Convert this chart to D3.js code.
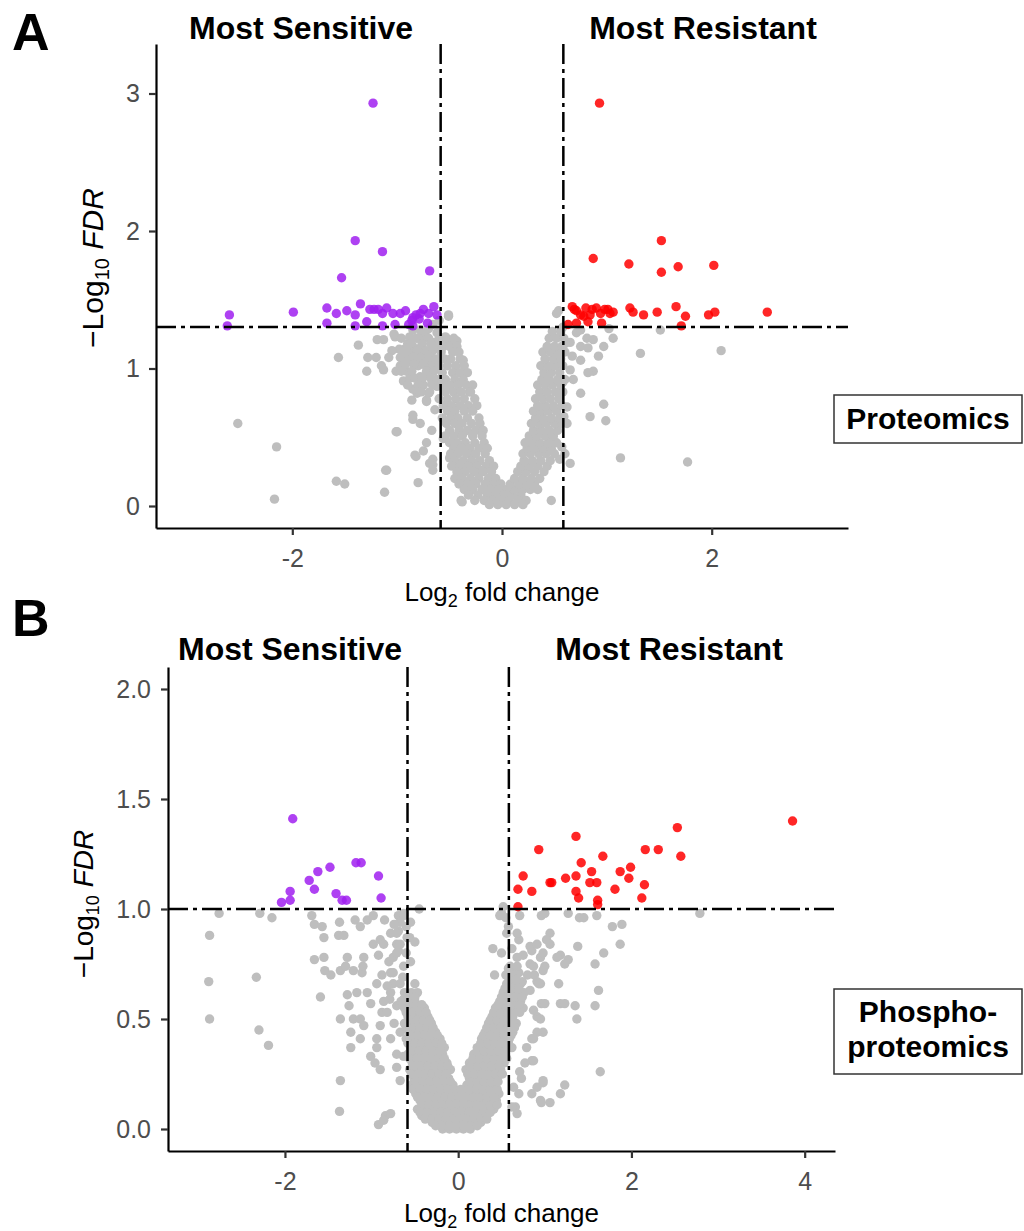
<!DOCTYPE html>
<html><head><meta charset="utf-8">
<script src="https://cdn.jsdelivr.net/npm/d3@7"></script>
<style>
body{margin:0;background:#fff;}
svg text{font-family:"Liberation Sans",Arial,Helvetica,sans-serif;}
</style></head><body>
<svg id="chart" width="1024" height="1231"></svg>
<script>
// ---------------- DATA ----------------
const fcCut = 0.585;          // log2(1.5)
const protFdrCut = 1.301;     // -log10(0.05)
const phosFdrCut = 1.0;       // -log10(0.1)

const protXTicks = [-2, 0, 2];
const protYTicks = [0, 1, 2, 3];
const phosXTicks = [-2, 0, 2, 4];
const phosYTicks = [0, 0.5, 1.0, 1.5, 2.0];

// Proteomics: significant down (Most Sensitive)
const protSensitive = [
[-1.23,2.93],[-1.40,1.93],[-1.14,1.85],[-0.69,1.71],[-1.53,1.66],[-2.60,1.39],[-2.62,1.31],[-1.99,1.41],
[-1.67,1.44],[-1.67,1.33],[-1.58,1.40],[-1.48,1.42],[-1.35,1.47],[-1.40,1.39],[-1.40,1.31],[-1.29,1.34],
[-1.22,1.43],[-1.18,1.43],[-1.14,1.40],[-1.10,1.44],[-1.14,1.31],[-1.04,1.40],[-1.02,1.32],[-0.97,1.40],
[-0.92,1.42],[-0.89,1.32],[-0.85,1.37],[-0.82,1.39],[-0.85,1.31],[-0.78,1.40],[-0.75,1.43],[-0.79,1.36],
[-0.70,1.40],[-0.65,1.45],[-0.62,1.39],[-0.71,1.33],[-0.86,1.35],[-1.26,1.43]
];
// Proteomics: significant up (Most Resistant)
const protResistant = [
[0.93,2.93],[1.52,1.93],[0.87,1.80],[1.21,1.76],[1.68,1.74],[2.02,1.75],[1.52,1.70],[0.67,1.45],
[0.71,1.42],[0.75,1.39],[0.80,1.44],[0.78,1.38],[0.84,1.39],[0.90,1.44],[0.94,1.40],[1.01,1.43],
[1.06,1.41],[0.63,1.32],[0.71,1.33],[0.82,1.34],[0.95,1.33],[1.22,1.44],[1.25,1.41],[1.35,1.39],
[1.48,1.41],[1.66,1.45],[1.75,1.38],[1.71,1.31],[1.97,1.39],[2.03,1.41],[2.53,1.41],[0.69,1.43],
[0.86,1.43],[0.98,1.43],[1.03,1.40]
];
// Proteomics: not significant (scattered)
const protOther = [
[-2.52,0.60],[-2.15,0.43],[-2.17,0.05],[-1.58,0.18],[-1.50,0.16],[-1.12,0.10],[-1.11,0.26],[-1.01,0.54],
[-0.82,0.36],[-0.80,0.17],[-0.75,0.40],[-0.85,0.63],[-0.86,0.77],[-0.81,0.82],[-0.72,0.76],[-0.66,0.34],
[-0.66,0.30],[-0.67,0.55],[-0.38,0.03],[-1.37,1.17],[-1.56,1.08],[-1.28,1.08],[-1.20,1.08],[-1.29,0.98],
[-1.15,1.02],[-1.19,1.21],[-1.03,1.25],[-0.88,1.23],[-1.01,0.98],[-0.94,0.91],[-0.51,1.38],[-0.94,1.12],
[-0.91,1.04],[-0.77,1.16],[-0.75,1.10],[-0.70,1.02],[-0.69,0.94],[-0.62,0.87],[-0.60,1.07],[-0.53,1.21],
[-0.45,1.17],[-0.37,1.06],[-0.31,0.83],[-0.50,0.87],[-0.53,0.72],[-0.47,0.63],[-0.37,0.53],[-0.31,0.38],
[-0.21,0.26],[-0.12,0.12],[-0.56,0.49],[-0.50,0.35],[-0.40,0.21],[-0.31,0.14],
[-1.13,1.21],[-1.13,0.99],[-1.02,1.23],[-0.97,1.02],[-0.93,1.14],[-0.91,0.98],[-0.85,1.16],[-0.85,0.85],
[-0.81,1.06],[-0.78,0.94],[-0.75,1.23],[-0.72,0.77],[-0.69,1.02],[-0.67,0.89],[-0.66,1.19],[-0.64,0.70],
[-0.62,1.26],[-0.85,0.66],[-0.78,0.60],[-1.00,0.54],[-0.83,0.37],[-0.69,0.31],[-0.66,0.26],[-1.10,0.26],
[-0.72,0.46],[-0.51,1.39],[-0.54,1.23],[-0.48,1.19],[-0.43,1.20],
[0.52,1.40],[0.55,0.34],[0.47,0.04],[-0.39,0.04],[0.49,0.48],[0.57,0.43],
[0.54,1.42],[0.65,1.19],[0.67,1.09],[0.71,1.26],[0.75,1.28],[0.75,1.16],
[0.75,1.06],[0.81,1.22],[0.87,1.21],[0.82,1.15],[0.92,1.09],[0.97,1.16],[1.02,1.29],[1.06,1.22],
[0.87,0.98],[0.82,0.97],[0.68,0.92],[0.75,0.82],[0.65,0.99],[1.32,1.11],[1.51,1.28],[2.09,1.13],
[0.97,0.74],[0.84,0.65],[0.99,0.62],[1.13,0.35],[1.77,0.32],[0.65,0.31],[0.60,0.38],[0.62,0.60],
[0.59,0.65],[0.62,0.72],[0.58,1.30],[0.60,1.18],[0.58,0.90],
[-0.85,1.28],[-0.80,1.22],[-0.90,1.18],[-0.70,1.29],[-0.66,1.32],[-0.60,1.35],[-0.98,1.14],[-0.92,1.08],
[-0.86,1.12],[-0.80,1.02],[-0.74,1.05],[-0.70,1.12],[-0.88,0.93],[-0.75,0.88],[-0.70,0.82],
[-0.78,1.28],[-0.72,1.28],[-0.96,1.22],[-0.82,1.22],[-0.70,1.22],[-0.87,1.18],[-0.76,1.18],[-0.68,1.18],
[-1.05,1.13],[-0.92,1.13],[-0.81,1.13],[-0.72,1.13],[-0.66,1.13],[-1.08,1.08],[-0.97,1.08],[-0.85,1.08],
[-0.78,1.08],[-0.69,1.08],[-0.93,1.03],[-0.84,1.03],[-0.75,1.03],[-0.66,1.03],[-0.96,0.98],[-0.86,0.98],
[-0.72,0.98],[-0.65,0.98],[-0.83,0.93],[-0.76,0.93],[-0.68,0.93],[-0.90,0.88],[-0.80,0.88],[-0.66,0.88],
[-0.77,0.83],[-0.69,0.83]
];
// Proteomics: not significant (dense V core)
const protCore = [
[-0.60,1.22],[-0.53,1.22],[-0.46,1.22],[-0.62,1.16],[-0.56,1.16],[-0.50,1.16],[-0.43,1.16],
[-0.58,1.12],[-0.47,1.12],[-0.41,1.12],[-0.63,1.07],[-0.55,1.07],[-0.49,1.07],[-0.40,1.07],
[-0.60,1.02],[-0.52,1.02],[-0.44,1.02],[-0.36,1.02],[-0.57,0.97],[-0.47,0.97],[-0.40,0.97],[-0.33,0.97],
[-0.62,0.92],[-0.54,0.92],[-0.45,0.92],[-0.37,0.92],[-0.58,0.88],[-0.50,0.88],[-0.42,0.88],[-0.34,0.88],[-0.28,0.88],
[-0.54,0.83],[-0.46,0.83],[-0.39,0.83],[-0.30,0.83],[-0.60,0.78],[-0.52,0.78],[-0.44,0.78],[-0.36,0.78],[-0.26,0.78],
[-0.56,0.73],[-0.48,0.73],[-0.40,0.73],[-0.32,0.73],[-0.24,0.73],[-0.52,0.69],[-0.45,0.69],[-0.36,0.69],[-0.28,0.69],
[-0.57,0.64],[-0.49,0.64],[-0.42,0.64],[-0.33,0.64],[-0.22,0.64],[-0.53,0.60],[-0.45,0.60],[-0.38,0.60],[-0.29,0.60],[-0.21,0.60],
[-0.50,0.55],[-0.41,0.55],[-0.33,0.55],[-0.25,0.55],[-0.18,0.55],[-0.54,0.51],[-0.46,0.51],[-0.38,0.51],[-0.28,0.51],[-0.19,0.51],
[-0.50,0.46],[-0.43,0.46],[-0.35,0.46],[-0.26,0.46],[-0.17,0.46],[-0.46,0.42],[-0.39,0.42],[-0.31,0.42],[-0.22,0.42],[-0.14,0.42],
[-0.49,0.38],[-0.42,0.38],[-0.34,0.38],[-0.25,0.38],[-0.16,0.38],[-0.45,0.33],[-0.37,0.33],[-0.29,0.33],[-0.21,0.33],[-0.12,0.33],
[-0.48,0.29],[-0.40,0.29],[-0.32,0.29],[-0.24,0.29],[-0.15,0.29],[-0.08,0.29],[-0.43,0.25],[-0.35,0.25],[-0.27,0.25],[-0.18,0.25],[-0.10,0.25],
[-0.45,0.20],[-0.38,0.20],[-0.30,0.20],[-0.22,0.20],[-0.13,0.20],[-0.06,0.20],
[-0.41,0.16],[-0.33,0.16],[-0.25,0.16],[-0.16,0.16],[-0.08,0.16],[-0.01,0.16],
[-0.36,0.12],[-0.28,0.12],[-0.19,0.12],[-0.11,0.12],[-0.03,0.12],[0.05,0.12],
[-0.32,0.08],[-0.23,0.08],[-0.14,0.08],[-0.06,0.08],[0.02,0.08],[0.10,0.08],[0.18,0.08],
[-0.26,0.04],[-0.17,0.04],[-0.09,0.04],[-0.01,0.04],[0.07,0.04],[0.15,0.04],[0.23,0.04],
[-0.12,0.01],[-0.04,0.01],[0.04,0.01],[0.12,0.01],[0.20,0.01],
[0.12,0.12],[0.20,0.12],[0.27,0.12],[0.34,0.12],[0.08,0.16],[0.16,0.16],[0.24,0.16],[0.31,0.16],
[0.12,0.20],[0.20,0.20],[0.28,0.20],[0.36,0.20],[0.15,0.25],[0.23,0.25],[0.31,0.25],[0.40,0.25],
[0.18,0.29],[0.26,0.29],[0.34,0.29],[0.43,0.29],[0.21,0.33],[0.29,0.33],[0.37,0.33],[0.46,0.33],
[0.20,0.38],[0.27,0.38],[0.35,0.38],[0.42,0.38],[0.50,0.38],[0.24,0.42],[0.31,0.42],[0.39,0.42],[0.47,0.42],
[0.22,0.46],[0.29,0.46],[0.36,0.46],[0.44,0.46],[0.52,0.46],[0.26,0.51],[0.33,0.51],[0.41,0.51],[0.49,0.51],
[0.30,0.55],[0.37,0.55],[0.45,0.55],[0.53,0.55],[0.28,0.60],[0.35,0.60],[0.42,0.60],[0.50,0.60],[0.57,0.60],
[0.32,0.64],[0.39,0.64],[0.47,0.64],[0.55,0.64],[0.30,0.69],[0.37,0.69],[0.44,0.69],[0.52,0.69],
[0.34,0.73],[0.41,0.73],[0.49,0.73],[0.57,0.73],[0.32,0.78],[0.39,0.78],[0.46,0.78],[0.54,0.78],
[0.36,0.83],[0.43,0.83],[0.51,0.83],[0.58,0.83],[0.34,0.88],[0.41,0.88],[0.48,0.88],[0.56,0.88],
[0.38,0.92],[0.45,0.92],[0.53,0.92],[0.60,0.92],[0.40,0.97],[0.47,0.97],[0.55,0.97],
[0.37,1.02],[0.44,1.02],[0.51,1.02],[0.58,1.02],[0.41,1.07],[0.49,1.07],[0.56,1.07],
[0.39,1.12],[0.46,1.12],[0.53,1.12],[0.60,1.12],[0.43,1.16],[0.50,1.16],[0.57,1.16],
[0.45,1.22],[0.52,1.22],[0.59,1.22],[0.48,1.27],[0.56,1.27]
];

// Phosphoproteomics
const phosSensitive = [
[-1.91,1.41],[-1.18,1.21],[-1.12,1.21],[-1.48,1.19],[-1.62,1.17],[-1.72,1.13],[-0.92,1.15],[-1.66,1.09],
[-1.94,1.08],[-1.94,1.04],[-2.04,1.03],[-1.41,1.07],[-1.34,1.04],[-1.29,1.04],[-0.89,1.05]
];
const phosResistant = [
[3.86,1.40],[2.53,1.37],[1.36,1.33],[0.93,1.27],[2.31,1.27],[2.16,1.27],[2.57,1.24],[1.67,1.24],
[1.42,1.21],[1.99,1.19],[1.87,1.17],[1.54,1.17],[0.75,1.15],[1.36,1.15],[1.24,1.14],[1.97,1.14],
[1.06,1.12],[1.08,1.12],[1.52,1.12],[1.60,1.12],[0.69,1.09],[0.85,1.08],[1.81,1.09],[2.15,1.11],
[1.36,1.08],[1.39,1.05],[2.12,1.05],[1.61,1.04],[1.61,1.02],[0.69,1.01]
];
const phosOther = [
[-2.76,0.98],[-2.87,0.88],[-2.88,0.67],[-2.87,0.50],[-2.33,0.69],[-2.30,0.45],[-2.19,0.38],[-2.29,0.98],
[-2.15,0.96],[-1.69,0.97],[-1.66,0.93],[-1.57,0.92],[-1.55,0.87],[-1.37,0.94],[-1.38,0.88],[-1.32,0.88],
[-1.19,0.95],[-1.13,0.92],[-1.05,0.95],[-0.98,0.97],[-0.85,0.95],[-1.66,0.77],[-1.55,0.78],[-1.54,0.72],
[-1.47,0.70],[-1.36,0.72],[-1.28,0.78],[-1.30,0.74],[-1.21,0.72],[-1.11,0.71],[-1.09,0.78],[-1.10,0.74],
[-1.59,0.60],[-1.28,0.61],[-1.17,0.62],[-1.05,0.62],[-1.01,0.57],[-1.26,0.56],[-1.21,0.50],[-1.36,0.50],
[-1.13,0.50],[-1.09,0.47],[-1.24,0.44],[-1.24,0.37],[-1.13,0.41],[-1.01,0.33],[-0.94,0.41],[-0.94,0.37],
[-0.90,0.47],[-0.88,0.53],[-0.98,0.84],[-0.90,0.86],[-0.78,0.89],[-0.71,0.84],[-0.75,0.78],[-0.69,0.81],
[-0.88,0.70],[-0.78,0.71],[-0.75,0.66],[-0.67,0.66],[-0.82,0.65],[-0.79,0.59],[-1.36,0.22],[-1.37,0.08],
[-0.92,0.02],[-0.84,0.06],[-0.71,0.28],[-0.67,0.22],[-0.96,0.30],[-0.90,0.27],[-0.69,0.97],[-0.67,0.94],
[-0.69,0.90],[-0.63,0.97],[-0.45,1.00],[-0.59,0.87],[-0.78,0.07],[-0.86,0.04],[-0.63,0.33],[-0.71,0.34],
[-0.67,0.44],[-0.78,0.41],[-0.82,0.53],[-0.71,0.56],[-0.63,0.59],[-0.78,0.62],[-0.75,0.71],[-0.63,0.74],
[-0.71,0.80],[-0.67,0.84],[-0.86,0.84],[-0.71,0.89],[-0.63,0.98],[-0.74,0.48],[-0.86,0.58],[-0.94,0.66],
[-0.80,0.76],[-0.92,0.79],[-0.64,0.69],[-0.60,0.80],[-0.56,0.87],[-0.74,0.93],[-0.60,0.92],[-0.55,0.76],
[-0.50,0.66],[-0.55,0.94],[-0.50,0.85],[0.52,1.01],[0.48,0.97],[0.55,0.96],[0.58,0.92],
[2.79,0.98],[1.89,0.93],[1.78,0.92],[1.87,0.84],[1.68,0.80],[1.58,0.75],[1.62,0.63],[1.58,0.56],
[1.64,0.26],[1.38,0.83],[1.37,0.50],[1.35,0.56],[1.18,0.57],[1.23,0.57],[1.16,0.66],[1.27,0.77],
[1.18,0.79],[1.23,0.75],[1.14,0.78],[1.27,0.98],[1.40,0.96],[1.45,0.96],[1.60,0.97],[0.96,0.97],
[1.00,0.98],[0.71,0.97],[0.50,0.98],[1.06,0.89],[1.02,0.86],[1.06,0.84],[1.00,0.74],[0.95,0.78],
[0.85,0.81],[0.83,0.75],[0.88,0.70],[0.95,0.66],[0.91,0.67],[0.83,0.63],[0.96,0.57],[1.00,0.57],
[0.91,0.51],[0.98,0.44],[0.85,0.41],[0.91,0.44],[0.85,0.31],[0.73,0.23],[0.98,0.21],[0.85,0.16],
[0.95,0.13],[1.06,0.12],[1.23,0.20],[1.18,0.16],[0.70,0.16],[0.66,0.10],[0.62,0.10],[0.68,0.07],
[0.66,0.71],[0.70,0.71],[0.62,0.82],[0.70,0.86],[0.75,0.79],[0.71,0.66],[0.74,0.67],[0.58,0.73],
[0.68,0.89],[0.56,0.89],[0.68,0.78],[0.83,0.83],[0.91,0.84],[0.98,0.80],[0.87,0.74],[0.98,0.72],
[0.93,0.66],[0.87,0.54],[0.95,0.50],[0.87,0.41],[0.91,0.19],[0.96,0.12],[0.98,0.22],[0.64,0.19],
[0.79,0.37],[0.87,0.31],[0.77,0.30],[0.71,0.26],[0.42,0.70],[0.50,0.80],[0.40,0.82]
];
const phosCore = [
[-0.62,0.62],[-0.54,0.62],[-0.47,0.62],[-0.66,0.58],[-0.58,0.58],[-0.50,0.58],
[-0.62,0.55],[-0.54,0.55],[-0.46,0.55],[-0.39,0.55],[-0.58,0.51],[-0.50,0.51],[-0.42,0.51],[-0.35,0.51],
[-0.62,0.48],[-0.54,0.48],[-0.46,0.48],[-0.38,0.48],[-0.31,0.48],[-0.57,0.44],[-0.49,0.44],[-0.41,0.44],[-0.33,0.44],[-0.26,0.44],
[-0.60,0.41],[-0.52,0.41],[-0.44,0.41],[-0.36,0.41],[-0.28,0.41],[-0.21,0.41],
[-0.55,0.37],[-0.47,0.37],[-0.39,0.37],[-0.31,0.37],[-0.23,0.37],[-0.16,0.37],
[-0.58,0.34],[-0.50,0.34],[-0.42,0.34],[-0.34,0.34],[-0.26,0.34],[-0.18,0.34],
[-0.53,0.30],[-0.45,0.30],[-0.37,0.30],[-0.29,0.30],[-0.21,0.30],[-0.13,0.30],
[-0.56,0.27],[-0.48,0.27],[-0.40,0.27],[-0.32,0.27],[-0.24,0.27],[-0.16,0.27],[-0.09,0.27],
[-0.51,0.23],[-0.43,0.23],[-0.35,0.23],[-0.27,0.23],[-0.19,0.23],[-0.11,0.23],
[-0.54,0.20],[-0.46,0.20],[-0.38,0.20],[-0.30,0.20],[-0.22,0.20],[-0.14,0.20],[-0.06,0.20],
[-0.49,0.16],[-0.41,0.16],[-0.33,0.16],[-0.25,0.16],[-0.17,0.16],[-0.09,0.16],[-0.01,0.16],[0.07,0.16],
[-0.44,0.13],[-0.36,0.13],[-0.28,0.13],[-0.20,0.13],[-0.12,0.13],[-0.04,0.13],[0.04,0.13],[0.12,0.13],
[-0.47,0.09],[-0.39,0.09],[-0.31,0.09],[-0.23,0.09],[-0.15,0.09],[-0.07,0.09],[0.01,0.09],[0.09,0.09],[0.17,0.09],
[-0.42,0.06],[-0.34,0.06],[-0.26,0.06],[-0.18,0.06],[-0.10,0.06],[-0.02,0.06],[0.06,0.06],[0.14,0.06],[0.22,0.06],
[-0.30,0.03],[-0.22,0.03],[-0.14,0.03],[-0.06,0.03],[0.02,0.03],[0.10,0.03],[0.18,0.03],[0.26,0.03],
[-0.18,0.00],[-0.10,0.00],[-0.02,0.00],[0.06,0.00],[0.14,0.00],
[0.25,0.09],[0.33,0.09],[0.41,0.09],[0.20,0.13],[0.28,0.13],[0.36,0.13],[0.44,0.13],
[0.15,0.16],[0.23,0.16],[0.31,0.16],[0.39,0.16],[0.47,0.16],[0.10,0.20],[0.18,0.20],[0.26,0.20],[0.34,0.20],[0.42,0.20],
[0.13,0.23],[0.21,0.23],[0.29,0.23],[0.37,0.23],[0.45,0.23],[0.09,0.27],[0.17,0.27],[0.25,0.27],[0.33,0.27],[0.41,0.27],[0.49,0.27],
[0.13,0.30],[0.21,0.30],[0.29,0.30],[0.37,0.30],[0.45,0.30],[0.53,0.30],[0.18,0.34],[0.26,0.34],[0.34,0.34],[0.42,0.34],[0.50,0.34],
[0.22,0.37],[0.30,0.37],[0.38,0.37],[0.46,0.37],[0.54,0.37],[0.62,0.37],[0.27,0.41],[0.35,0.41],[0.43,0.41],[0.51,0.41],[0.59,0.41],
[0.31,0.44],[0.39,0.44],[0.47,0.44],[0.55,0.44],[0.63,0.44],[0.35,0.48],[0.43,0.48],[0.51,0.48],[0.59,0.48],[0.67,0.48],
[0.39,0.51],[0.47,0.51],[0.55,0.51],[0.63,0.51],[0.43,0.55],[0.51,0.55],[0.59,0.55],[0.67,0.55],[0.75,0.55],
[0.48,0.58],[0.56,0.58],[0.64,0.58],[0.72,0.58],[0.52,0.62],[0.60,0.62],[0.68,0.62],[0.76,0.62],
[0.56,0.66],[0.64,0.66],[0.72,0.66],[0.55,0.70],[0.63,0.70],[0.80,0.70],[0.60,0.74],[0.68,0.74],
// interleaved
[-0.58,0.60],[-0.50,0.60],[-0.64,0.565],[-0.56,0.565],[-0.48,0.565],[-0.42,0.565],
[-0.60,0.53],[-0.52,0.53],[-0.44,0.53],[-0.37,0.53],[-0.56,0.495],[-0.48,0.495],[-0.40,0.495],[-0.33,0.495],
[-0.60,0.46],[-0.52,0.46],[-0.44,0.46],[-0.36,0.46],[-0.29,0.46],[-0.55,0.425],[-0.47,0.425],[-0.39,0.425],[-0.31,0.425],[-0.24,0.425],
[-0.58,0.39],[-0.50,0.39],[-0.42,0.39],[-0.34,0.39],[-0.26,0.39],[-0.19,0.39],[-0.53,0.355],[-0.45,0.355],[-0.37,0.355],[-0.29,0.355],[-0.21,0.355],
[-0.56,0.32],[-0.48,0.32],[-0.40,0.32],[-0.32,0.32],[-0.24,0.32],[-0.16,0.32],[-0.51,0.285],[-0.43,0.285],[-0.35,0.285],[-0.27,0.285],[-0.19,0.285],[-0.12,0.285],
[-0.54,0.25],[-0.46,0.25],[-0.38,0.25],[-0.30,0.25],[-0.22,0.25],[-0.14,0.25],[-0.49,0.215],[-0.41,0.215],[-0.33,0.215],[-0.25,0.215],[-0.17,0.215],[-0.09,0.215],
[-0.52,0.18],[-0.44,0.18],[-0.36,0.18],[-0.28,0.18],[-0.20,0.18],[-0.12,0.18],[-0.04,0.18],[0.03,0.18],
[-0.47,0.145],[-0.39,0.145],[-0.31,0.145],[-0.23,0.145],[-0.15,0.145],[-0.07,0.145],[0.01,0.145],[0.09,0.145],
[-0.42,0.11],[-0.34,0.11],[-0.26,0.11],[-0.18,0.11],[-0.10,0.11],[-0.02,0.11],[0.06,0.11],[0.14,0.11],[0.21,0.11],
[-0.44,0.075],[-0.36,0.075],[-0.28,0.075],[-0.20,0.075],[-0.12,0.075],[-0.04,0.075],[0.04,0.075],[0.12,0.075],[0.20,0.075],[0.29,0.075],[0.37,0.075],
[-0.38,0.045],[-0.30,0.045],[-0.22,0.045],[-0.14,0.045],[-0.06,0.045],[0.02,0.045],[0.10,0.045],[0.18,0.045],[0.26,0.045],[0.33,0.045],
[-0.26,0.015],[-0.18,0.015],[-0.10,0.015],[-0.02,0.015],[0.06,0.015],[0.14,0.015],[0.22,0.015],
[0.29,0.11],[0.37,0.11],[0.45,0.11],[0.17,0.145],[0.25,0.145],[0.33,0.145],[0.41,0.145],
[0.13,0.18],[0.21,0.18],[0.29,0.18],[0.37,0.18],[0.45,0.18],[0.14,0.215],[0.22,0.215],[0.30,0.215],[0.38,0.215],[0.46,0.215],
[0.11,0.25],[0.19,0.25],[0.27,0.25],[0.35,0.25],[0.43,0.25],[0.51,0.25],[0.15,0.285],[0.23,0.285],[0.31,0.285],[0.39,0.285],[0.47,0.285],
[0.17,0.32],[0.25,0.32],[0.33,0.32],[0.41,0.32],[0.49,0.32],[0.56,0.32],[0.22,0.355],[0.30,0.355],[0.38,0.355],[0.46,0.355],[0.54,0.355],
[0.26,0.39],[0.34,0.39],[0.42,0.39],[0.50,0.39],[0.58,0.39],[0.29,0.425],[0.37,0.425],[0.45,0.425],[0.53,0.425],[0.61,0.425],
[0.33,0.46],[0.41,0.46],[0.49,0.46],[0.57,0.46],[0.65,0.46],[0.37,0.495],[0.45,0.495],[0.53,0.495],[0.61,0.495],
[0.41,0.53],[0.49,0.53],[0.57,0.53],[0.65,0.53],[0.71,0.53],[0.46,0.565],[0.54,0.565],[0.62,0.565],[0.70,0.565],
[0.50,0.60],[0.58,0.60],[0.66,0.60],[0.74,0.60],[0.54,0.64],[0.62,0.64],[0.70,0.64],[0.59,0.68],[0.67,0.68]
];

// ---------------- DRAW ----------------
const svg = d3.select("#chart");
const FONT = '"Liberation Sans", Arial, Helvetica, sans-serif';

function drawPanel(c) {
  const x = d3.scaleLinear().domain(c.xDomain).range([c.left, c.right]);
  const y = d3.scaleLinear().domain(c.yDomain).range([c.bottom, c.top]);
  const g = svg.append("g");

  const layers = [
    [c.other.concat(c.core), "#BEBEBE", 1],
    [c.sens, "#A020F0", 0.85],
    [c.res, "#FF0000", 0.85]
  ];
  layers.forEach(([data, col, op]) => {
    g.append("g").selectAll("circle").data(data).join("circle")
      .attr("cx", d => x(d[0])).attr("cy", d => y(d[1]))
      .attr("r", 4.7).attr("fill", col).attr("fill-opacity", op);
  });

  const dash = "20,5,4,5";
  [-fcCut, fcCut].forEach(v => {
    g.append("line").attr("x1", x(v)).attr("x2", x(v))
      .attr("y1", c.top).attr("y2", c.bottom)
      .attr("stroke", "#000").attr("stroke-width", 2.5).attr("stroke-dasharray", dash);
  });
  g.append("line").attr("x1", c.left).attr("x2", c.right)
    .attr("y1", y(c.hline)).attr("y2", y(c.hline))
    .attr("stroke", "#000").attr("stroke-width", 2.5).attr("stroke-dasharray", dash);

  const xa = g.append("g").attr("transform", `translate(0,${c.bottom})`)
    .call(d3.axisBottom(x).tickValues(c.xTicks).tickSize(7).tickSizeOuter(0).tickPadding(14).tickFormat(d => String(d)));
  const ya = g.append("g").attr("transform", `translate(${c.left},0)`)
    .call(d3.axisLeft(y).tickValues(c.yTicks).tickSize(7).tickSizeOuter(0).tickPadding(c.yPad).tickFormat(c.yFmt));
  [xa, ya].forEach(a => {
    a.select(".domain").attr("stroke", "#000").attr("stroke-width", 2.2);
    a.selectAll(".tick line").attr("stroke", "#333").attr("stroke-width", 2.2);
    a.selectAll(".tick text").attr("fill", "#4D4D4D").style("font-size", "25px").style("font-family", FONT);
  });

  // x title
  const xt = g.append("text").attr("x", (c.left + c.right) / 2).attr("y", c.xTitleY)
    .attr("text-anchor", "middle").style("font-size", "26px").attr("fill", "#000");
  xt.append("tspan").text("Log");
  xt.append("tspan").text("2").style("font-size", "18px").attr("dy", 6);
  xt.append("tspan").text(" fold change").attr("dy", -6);

  // y title
  const yt = g.append("text").attr("transform", `translate(${c.yTitleX},${c.yTitleY}) rotate(-90)`)
    .attr("text-anchor", "middle").style("font-size", c.yTitleSize + "px").attr("fill", "#000");
  yt.append("tspan").text("\u2212Log");
  yt.append("tspan").text("10").style("font-size", Math.round(c.yTitleSize * 0.66) + "px").attr("dy", 6);
  yt.append("tspan").text(" ").attr("dy", -6);
  yt.append("tspan").text("FDR").style("font-style", "italic");

  // headers
  g.append("text").attr("x", c.sensX).attr("y", c.headY).attr("text-anchor", "middle")
    .style("font-size", "32px").style("font-weight", "bold").text("Most Sensitive");
  g.append("text").attr("x", c.resX).attr("y", c.headY).attr("text-anchor", "middle")
    .style("font-size", "32px").style("font-weight", "bold").text("Most Resistant");

  // panel letter
  g.append("text").attr("x", 12).attr("y", c.letterY)
    .style("font-size", "52px").style("font-weight", "bold").text(c.letter);

  // side box
  g.append("rect").attr("x", 834).attr("y", c.boxTop).attr("width", 188).attr("height", c.boxH)
    .attr("fill", "#fff").attr("stroke", "#333").attr("stroke-width", 1.5);
  c.boxLines.forEach((t, i) => {
    g.append("text").attr("x", 928).attr("y", c.boxBase + i * 35).attr("text-anchor", "middle")
      .style("font-size", "30px").style("font-weight", "bold").text(t);
  });
}

drawPanel({
  xDomain: [-3.3, 3.3], yDomain: [-0.16, 3.36],
  left: 156, right: 848, top: 44, bottom: 528,
  xTicks: protXTicks, yTicks: protYTicks, yFmt: d3.format("d"), yPad: 9,
  other: protOther, core: protCore, sens: protSensitive, res: protResistant, hline: protFdrCut,
  xTitleY: 601, yTitleX: 103, yTitleY: 268, yTitleSize: 30,
  sensX: 301, resX: 703, headY: 39, letter: "A", letterY: 50,
  boxTop: 395, boxH: 48, boxLines: ["Proteomics"], boxBase: 429
});
drawPanel({
  xDomain: [-3.35, 4.35], yDomain: [-0.1, 2.1],
  left: 168, right: 835, top: 667, bottom: 1151,
  xTicks: phosXTicks, yTicks: phosYTicks, yFmt: d3.format(".1f"), yPad: 10,
  other: phosOther, core: phosCore, sens: phosSensitive, res: phosResistant, hline: phosFdrCut,
  xTitleY: 1222, yTitleX: 93, yTitleY: 904, yTitleSize: 28,
  sensX: 290, resX: 669, headY: 660, letter: "B", letterY: 636,
  boxTop: 989, boxH: 85, boxLines: ["Phospho-", "proteomics"], boxBase: 1022
});
</script>
</body></html>
